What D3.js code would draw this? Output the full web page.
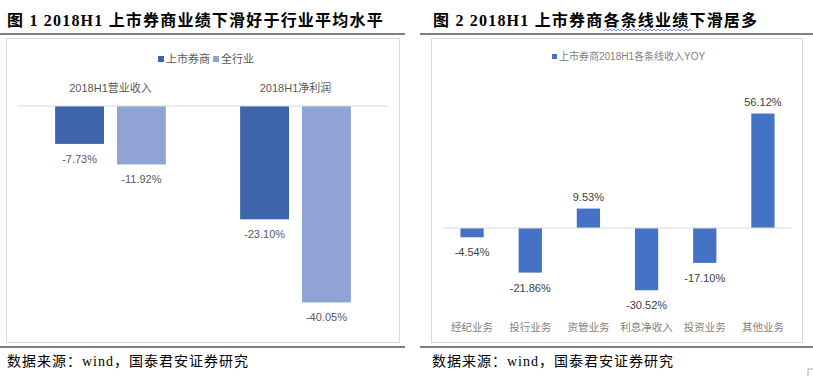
<!DOCTYPE html>
<html>
<head>
<meta charset="utf-8">
<script src="https://cdn.jsdelivr.net/npm/d3@7"></script>
<style>
  body { margin: 0; background: #fff; }
  svg text { font-family: "Liberation Sans", Arial, "Noto Sans CJK SC", sans-serif; }
  .title { font-family: "Liberation Serif", "Noto Sans CJK SC", serif; font-weight: bold; font-size: 16px; fill: #000; letter-spacing: 1.2px; }
  .src { font-family: "Liberation Serif", "Noto Sans CJK SC", serif; font-size: 14px; fill: #000; letter-spacing: 1px; }
</style>
</head>
<body>
<svg id="chart" width="813" height="376"></svg>
<script>
// left chart data
const groups = ["2018H1营业收入", "2018H1净利润"];
const seriesNames = ["上市券商", "全行业"];
const brokerVals = [-7.73, -23.10];
const industryVals = [-11.92, -40.05];

// right chart data
const lineNames = ["经纪业务", "投行业务", "资管业务", "利息净收入", "投资业务", "其他业务"];
const yoyVals = [-4.54, -21.86, 9.53, -30.52, -17.10, 56.12];

const colors = { broker: "#3E64AC", industry: "#8FA3D4", yoy: "#4472C4" };

const svg = d3.select("#chart");

// titles, rules and source notes
svg.append("text").attr("class", "title").attr("x", 7).attr("y", 26)
  .text("图  1 2018H1 上市券商业绩下滑好于行业平均水平");
svg.append("text").attr("class", "title").attr("x", 433).attr("y", 26)
  .text("图  2 2018H1 上市券商各条线业绩下滑居多");

// spell-check squiggle under 线业绩
const sq = d3.path();
sq.moveTo(604, 31);
for (let x = 604; x < 690; x += 4) { sq.lineTo(x + 2, 29); sq.lineTo(x + 4, 31); }
svg.append("path").attr("d", sq.toString()).attr("fill", "none").attr("stroke", "#4a6fd8").attr("stroke-width", 0.8);

[[0, 405, 34], [0, 405, 347], [420, 813, 34], [420, 813, 347]].forEach(([x1, x2, y]) => {
  svg.append("line").attr("x1", x1).attr("x2", x2).attr("y1", y).attr("y2", y)
    .attr("stroke", "#000").attr("stroke-width", 1);
});
svg.append("text").attr("class", "src").attr("x", 7).attr("y", 366).text("数据来源：wind，国泰君安证券研究");
svg.append("text").attr("class", "src").attr("x", 432).attr("y", 366).text("数据来源：wind，国泰君安证券研究");

// small corner mark bottom right
svg.append("path").attr("d", "M808,376 L808,369 L813,369").attr("fill", "none").attr("stroke", "#999").attr("stroke-width", 0.8);

// chart boxes
svg.append("rect").attr("x", 6.5).attr("y", 38.5).attr("width", 393).attr("height", 304)
  .attr("fill", "#fff").attr("stroke", "#d9d9d9");
svg.append("rect").attr("x", 431.5).attr("y", 38.5).attr("width", 371).attr("height", 304)
  .attr("fill", "#fff").attr("stroke", "#d9d9d9");

// ---------- left chart ----------
const left = svg.append("g");
const x0 = d3.scaleBand().domain(groups).range([18, 388]);
const x1 = d3.scaleBand().domain(seriesNames).range([0, x0.bandwidth()]).paddingInner(0.21).paddingOuter(0.6);
const yL = d3.scaleLinear().domain([-42, 0]).range([312, 106]);

const leftRows = [];
groups.forEach((g, i) => {
  leftRows.push({ g, s: seriesNames[0], v: brokerVals[i], c: colors.broker });
  leftRows.push({ g, s: seriesNames[1], v: industryVals[i], c: colors.industry });
});

left.selectAll("rect.bar").data(leftRows).join("rect").attr("class", "bar")
  .attr("x", d => x0(d.g) + x1(d.s))
  .attr("y", yL(0))
  .attr("width", x1.bandwidth())
  .attr("height", d => yL(d.v) - yL(0))
  .attr("fill", d => d.c);

left.append("line").attr("x1", 18).attr("x2", 388).attr("y1", yL(0)).attr("y2", yL(0))
  .attr("stroke", "#d9d9d9");

left.selectAll("text.val").data(leftRows).join("text").attr("class", "val")
  .attr("x", d => x0(d.g) + x1(d.s) + x1.bandwidth() / 2)
  .attr("y", d => yL(d.v) + 19)
  .attr("text-anchor", "middle")
  .attr("font-size", 11).attr("fill", "#595959")
  .style("font-family", "'Liberation Sans Narrow', 'Liberation Sans', sans-serif")
  .text(d => d.v.toFixed(2) + "%");

left.selectAll("text.grp").data(groups).join("text").attr("class", "grp")
  .attr("x", d => x0(d) + x0.bandwidth() / 2)
  .attr("y", 92)
  .attr("text-anchor", "middle")
  .attr("font-size", 11).attr("fill", "#595959")
  .style("font-family", "'Liberation Sans Narrow', 'Liberation Sans', 'Noto Sans CJK SC', sans-serif")
  .text(d => d);

// legend
const legL = left.append("g").attr("transform", "translate(158,60)");
[[0, colors.broker, seriesNames[0]], [55, colors.industry, seriesNames[1]]].forEach(([dx, c, t]) => {
  legL.append("rect").attr("x", dx).attr("y", -4).attr("width", 6).attr("height", 6).attr("fill", c);
  legL.append("text").attr("x", dx + 8).attr("y", 3).attr("font-size", 11).attr("fill", "#595959").text(t);
});

// ---------- right chart ----------
const right = svg.append("g");
const xR = d3.scaleBand().domain(lineNames).range([443, 792]).paddingInner(0.6).paddingOuter(0.3);
const yR = d3.scaleLinear().domain([-40, 60]).range([309.6, 105.6]);

right.selectAll("rect.bar").data(lineNames).join("rect").attr("class", "bar")
  .attr("x", d => xR(d))
  .attr("y", (d, i) => yR(Math.max(0, yoyVals[i])))
  .attr("width", xR.bandwidth())
  .attr("height", (d, i) => Math.abs(yR(yoyVals[i]) - yR(0)))
  .attr("fill", colors.yoy);

right.append("line").attr("x1", 443).attr("x2", 792).attr("y1", yR(0)).attr("y2", yR(0))
  .attr("stroke", "#d9d9d9");

right.selectAll("text.val").data(lineNames).join("text").attr("class", "val")
  .attr("x", d => xR(d) + xR.bandwidth() / 2)
  .attr("y", (d, i) => yoyVals[i] < 0 ? yR(yoyVals[i]) + 19 : yR(yoyVals[i]) - 8)
  .attr("text-anchor", "middle")
  .attr("font-size", 11).attr("fill", "#404040")
  .text((d, i) => yoyVals[i].toFixed(2) + "%");

right.selectAll("text.cat").data(lineNames).join("text").attr("class", "cat")
  .attr("x", d => xR(d) + xR.bandwidth() / 2)
  .attr("y", 331)
  .attr("text-anchor", "middle")
  .attr("font-size", 10.5).attr("fill", "#7f7f7f")
  .text(d => d);

const legR = right.append("g").attr("transform", "translate(552,58)");
legR.append("rect").attr("x", 0).attr("y", -4).attr("width", 5).attr("height", 5).attr("fill", colors.yoy);
legR.append("text").attr("x", 7).attr("y", 2).attr("font-size", 10).attr("fill", "#7f7f7f")
  .style("font-family", "'Liberation Sans Narrow', 'Liberation Sans', 'Noto Sans CJK SC', sans-serif")
  .text("上市券商2018H1各条线收入YOY");
</script>
</body>
</html>
